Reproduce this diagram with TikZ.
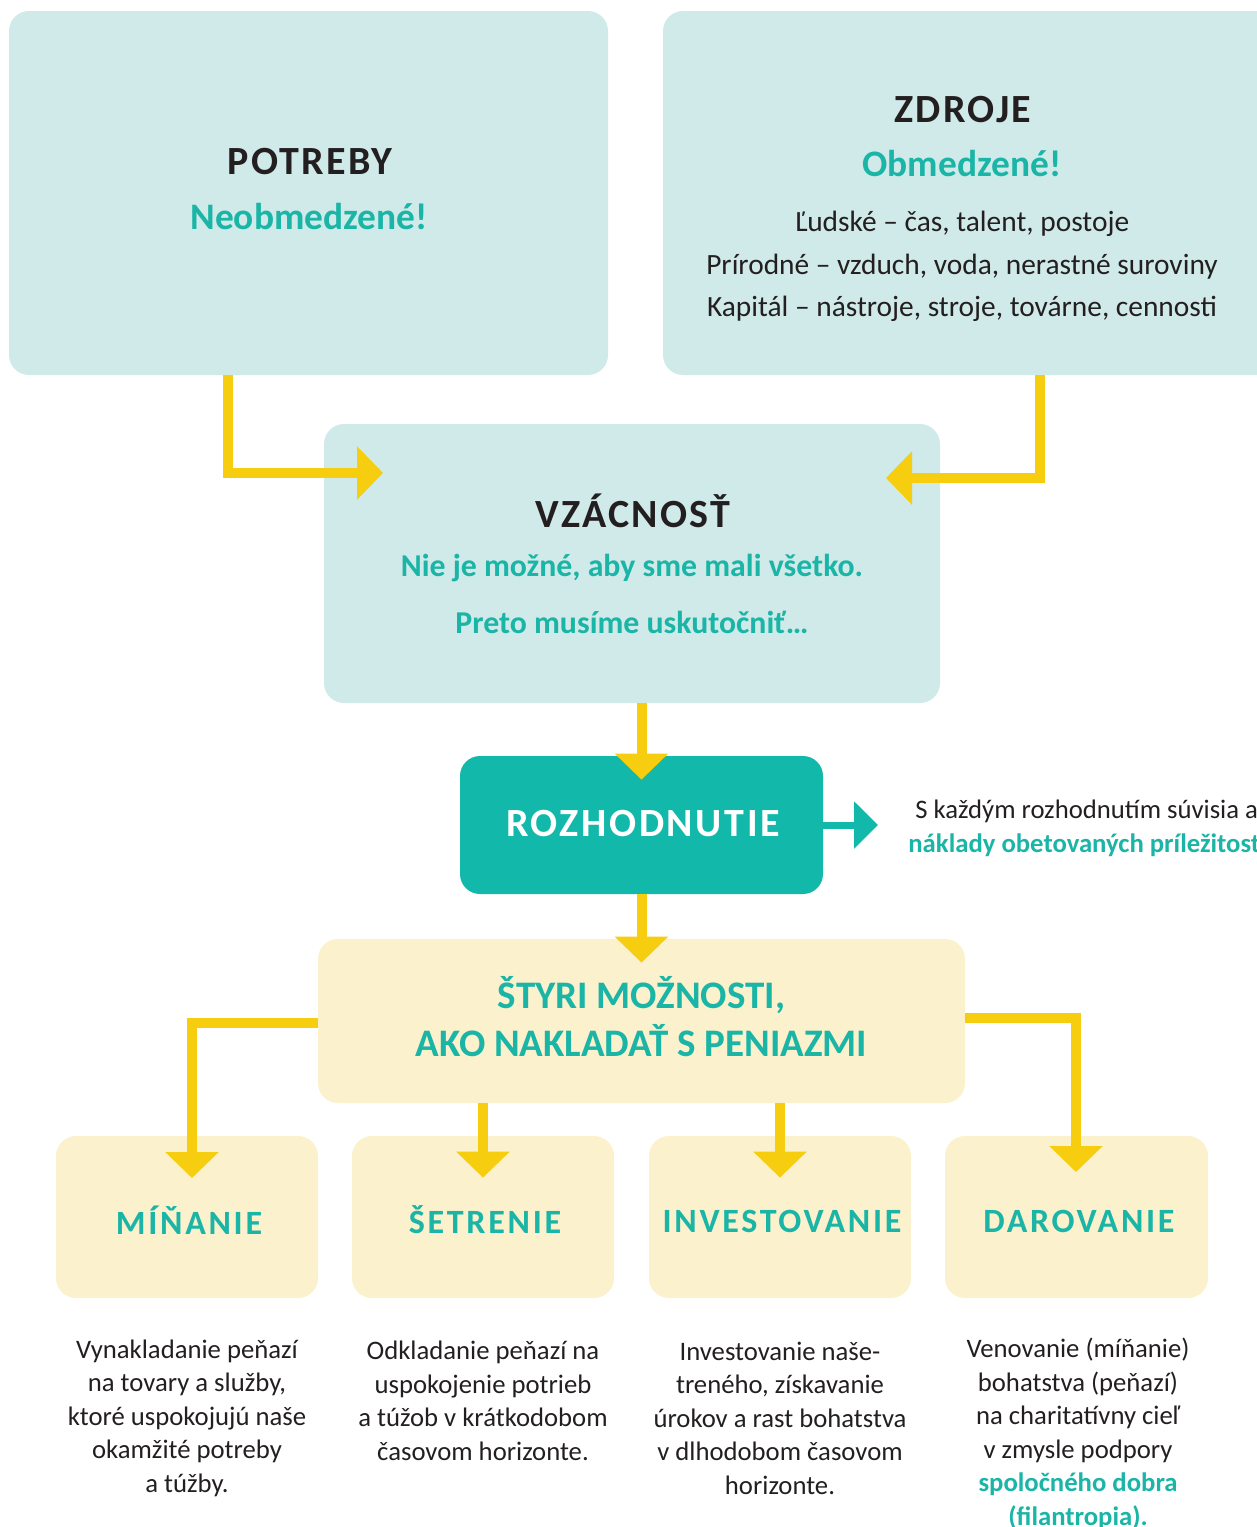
\documentclass[tikz,border=0pt]{standalone}
\usepackage{fontspec}
\setmainfont{Carlito}
\usetikzlibrary{arrows.meta,fit}
\definecolor{boxteal}{HTML}{CFEAE8}
\definecolor{deepteal}{HTML}{12B9AA}
\definecolor{textteal}{HTML}{1AB5A6}
\definecolor{cream}{HTML}{FBF1CC}
\definecolor{arrowyellow}{HTML}{F6CD0F}
\definecolor{inkdark}{HTML}{231F20}
\begin{document}
\begin{tikzpicture}[x=0.5pt,y=-0.5pt]
			\tikzset{
				tealbox/.style={rectangle, rounded corners=10pt, fill=boxteal, inner sep=0pt},
				decisionbox/.style={rectangle, rounded corners=10pt, fill=deepteal, inner sep=0pt},
				creambox/.style={rectangle, rounded corners=10pt, fill=cream, inner sep=0pt},
				headline/.style={inner sep=0pt, text=inkdark, font=\fontsize{20pt}{24pt}\selectfont\bfseries\addfontfeature{LetterSpace=5.5}},
				subline/.style={inner sep=0pt, text=textteal, font=\fontsize{18.7pt}{22pt}\selectfont\bfseries},
				scarcityline/.style={inner sep=0pt, text=textteal, font=\fontsize{15.9pt}{19pt}\selectfont\bfseries},
				listline/.style={inner sep=0pt, text=inkdark, align=center, font=\fontsize{14.7pt}{21.25pt}\selectfont},
				optionlabel/.style={inner sep=0pt, text=textteal, font=\fontsize{17pt}{20pt}\selectfont\bfseries\addfontfeature{LetterSpace=8}},
				desc/.style={inner sep=0pt, text=inkdark, align=center, font=\fontsize{13.35pt}{16.75pt}\selectfont},
				sidenote/.style={inner sep=0pt, anchor=west, font=\fontsize{13.35pt}{16pt}\selectfont},
				yarrow/.style={draw=arrowyellow, line width=5pt, -{Triangle[width=26pt,length=13pt]}},
				tarrow/.style={draw=deepteal, line width=3.5pt, -{Triangle[width=23pt,length=12pt]}},
			}
			\useasboundingbox (0,0) rectangle (1257,1527);
			% boxes
			\node[tealbox, fit={(9,11) (608,375)}](potreby){};
			\node[tealbox, fit={(663,11) (1280,375)}](zdroje){};
			\node[tealbox, fit={(324,424) (940,703)}](vzacnost){};
			\node[decisionbox, fit={(460,756) (823,894)}](rozhodnutie){};
			\node[creambox, fit={(318,939) (965,1103)}](moznosti){};
			\node[creambox, fit={(56,1136) (318,1298)}](minanie){};
			\node[creambox, fit={(352,1136) (614,1298)}](setrenie){};
			\node[creambox, fit={(649,1136) (911,1298)}](investovanie){};
			\node[creambox, fit={(945,1136) (1208,1298)}](darovanie){};
			% texts
			\node[headline] (potrebyT) at (310,162) {POTREBY};
			\node[subline] (potrebyS) at (309,217) {Neobmedzené!};
			\node[headline] (zdrojeT) at (963,110) {ZDROJE};
			\node[subline] (zdrojeS) at (962,164) {Obmedzené!};
			\node[listline] (zdrojeL) at (962,266.5) {Ľudské – čas, talent, postoje\\Prírodné – vzduch, voda, nerastné suroviny\\Kapitál – nástroje, stroje, továrne, cennosti};
			\node[headline] (vzacnostT) at (633,511) {VZÁCNOSŤ};
			\node[scarcityline] (vzacnostA) at (632,568) {Nie je možné, aby sme mali všetko.};
			\node[scarcityline] (vzacnostB) at (632,622) {Preto musíme uskutočniť…};
			\node[headline, text=white, font=\fontsize{20pt}{24pt}\selectfont\bfseries\addfontfeature{LetterSpace=6.5}] (rozhodnutieT) at (643,824) {ROZHODNUTIE};
			\node[sidenote, text=inkdark] (nakladyA) at (915,811) {S každým rozhodnutím súvisia a};
			\node[sidenote, text=textteal, font=\fontsize{13.35pt}{16pt}\selectfont\bfseries] (nakladyB) at (908,845) {náklady obetovaných príležitost};
			\node[inner sep=0pt, text=textteal, align=center, font=\fontsize{19.5pt}{24pt}\selectfont\bfseries] (moznostiT) at (641.5,1017) {ŠTYRI MOŽNOSTI,\\AKO NAKLADAŤ S PENIAZMI};
			\node[optionlabel] (minanieT) at (189,1220) {MÍŇANIE};
			\node[optionlabel] (setrenieT) at (485,1220) {ŠETRENIE};
			\node[optionlabel] (investovanieT) at (782,1221) {INVESTOVANIE};
			\node[optionlabel] (darovanieT) at (1079,1221) {DAROVANIE};
			\node[desc] (minanieD) at (187,1418) {Vynakladanie peňazí\\na tovary a služby,\\ktoré uspokojujú naše\\okamžité potreby\\a túžby.};
			\node[desc] (setrenieD) at (483,1401) {Odkladanie peňazí na\\uspokojenie potrieb\\a túžob v krátkodobom\\časovom horizonte.};
			\node[desc] (investovanieD) at (780,1418) {Investovanie naše-\\treného, získavanie\\úrokov a rast bohatstva\\v dlhodobom časovom\\horizonte.};
			\node[desc] (darovanieD) at (1078,1434) {Venovanie (míňanie)\\bohatstva (peňazí)\\na charitatívny cieľ\\v zmysle podpory\\\textcolor{textteal}{\bfseries spoločného dobra}\\\textcolor{textteal}{\bfseries (filantropia).}};
			%draw arrows
			\coordinate (potrebyOut) at (228,375);
			\coordinate (vzacnostInL) at (383,473);
			\coordinate (zdrojeOut) at (1040,375);
			\coordinate (vzacnostInR) at (886,478);
			\coordinate (nakladyIn) at (878,825);
			\coordinate (moznostiOutL) at (318,1023);
			\coordinate (minanieIn) at (192,1178);
			\coordinate (moznostiOutR) at (965,1018);
			\coordinate (darovanieIn) at (1076,1172);
			\draw[yarrow] (potrebyOut) |- (vzacnostInL);
			\draw[yarrow] (zdrojeOut) |- (vzacnostInR);
			\draw[yarrow] (vzacnost.south -| rozhodnutie.north) -- ([yshift=-12pt]rozhodnutie.north);
			\draw[yarrow] (rozhodnutie.south) -- ([yshift=-12pt]moznosti.north);
			\draw[tarrow] (rozhodnutie.east) -- (nakladyIn);
			\draw[yarrow] (moznostiOutL) -| (minanieIn);
			\draw[yarrow] (moznosti.south -| setrenie.north) -- ([yshift=-21pt]setrenie.north);
			\draw[yarrow] (moznosti.south -| investovanie.north) -- ([yshift=-21pt]investovanie.north);
			\draw[yarrow] (moznostiOutR) -| (darovanieIn);
		\end{tikzpicture}
\end{document}
